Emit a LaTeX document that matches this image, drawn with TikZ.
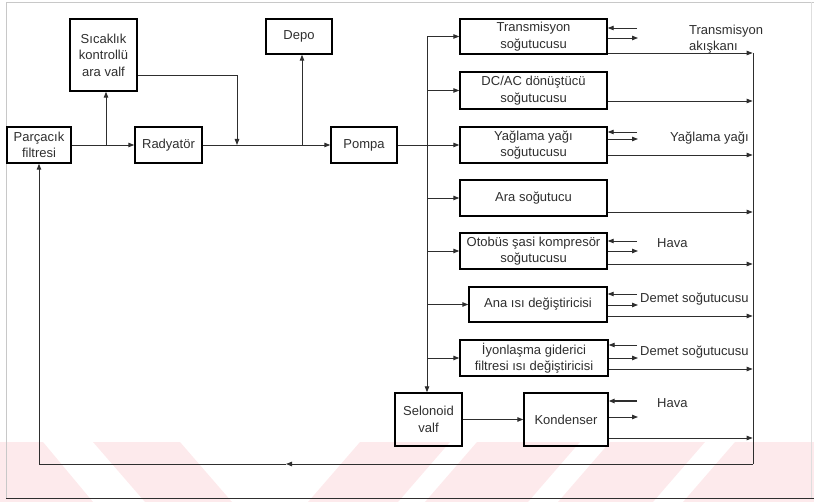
\documentclass[tikz,border=0pt]{standalone}
\usepackage{fontspec}
\setmainfont{Liberation Sans}
\usetikzlibrary{arrows.meta,calc}
\definecolor{ink}{HTML}{2E2E2E}
\definecolor{wm}{RGB}{253,234,236}
\definecolor{framegray}{HTML}{C8C8C8}
\begin{document}
\begin{tikzpicture}[x=1pt,y=-1pt,
  box/.style={draw=black, line width=1.4pt, inner sep=1pt, align=center,
    font=\fontsize{13}{16.5}\selectfont, text=ink},
  conn/.style={draw=ink, line width=0.9pt},
  arr/.style={conn, -{Triangle[length=6pt,width=4.5pt]}},
  lbl/.style={font=\fontsize{13}{16.5}\selectfont, text=ink, align=left, inner sep=0pt}]

\useasboundingbox (0,0) rectangle (814,502);

% pale striped band along the bottom edge
\fill[wm] (0,442) -- (43,442) -- (93,502) -- (0,502) -- cycle;
\fill[wm] (93,442) -- (180,442) -- (232,502) -- (145,502) -- cycle;
\fill[wm] (360,442) -- (450,442) -- (398,502) -- (308,502) -- cycle;
\fill[wm] (477,442) -- (580,442) -- (528,502) -- (425,502) -- cycle;
\fill[wm] (610,442) -- (705,442) -- (653,502) -- (558,502) -- cycle;
\fill[wm] (735,442) -- (814,442) -- (814,502) -- (683,502) -- cycle;

% page frame
\draw[framegray, line width=0.6pt] (6,498) -- (6,2) -- (814,2);
\draw[framegray!60, line width=0.6pt] (811,2) -- (811,498);
\draw[ink, line width=1pt] (6,498) -- (814,498);

% blocks
\node[box, minimum width=64pt, minimum height=36pt] (filt) at (39,145) {Parçacık\\filtresi};
\node[box, minimum width=67pt, minimum height=72pt] (valve) at (103.5,55) {Sıcaklık\\kontrollü\\ara valf};
\node[box, minimum width=67pt, minimum height=36pt] (rad) at (168.5,145) {Radyatör};
\node[box, minimum width=66pt, minimum height=35pt] (depo) at (299,36.5) {Depo};
\node[box, minimum width=66pt, minimum height=36pt] (pompa) at (364,145) {Pompa};
\node[box, minimum width=147pt, minimum height=35pt] (trans) at (533.5,36.5) {Transmisyon\\soğutucusu};
\node[box, minimum width=147pt, minimum height=37pt] (dcac) at (533.5,90.5) {DC/AC dönüştücü\\soğutucusu};
\node[box, minimum width=147pt, minimum height=36pt] (yag) at (533.5,145) {Yağlama yağı\\soğutucusu};
\node[box, minimum width=147pt, minimum height=36pt] (ara) at (533.5,198) {Ara soğutucu};
\node[box, minimum width=147pt, minimum height=36pt] (oto) at (533.5,251) {Otobüs şasi kompresör\\soğutucusu};
\node[box, minimum width=138pt, minimum height=35pt] (ana) at (538,304.5) {Ana ısı değiştiricisi};
\node[box, minimum width=148pt, minimum height=36pt] (iyon) at (534,358) {İyonlaşma giderici\\filtresi ısı değiştiricisi};
\node[box, minimum width=67pt, minimum height=53pt] (sel) at (428.5,419.5) {Selonoid\\valf};
\node[box, minimum width=84pt, minimum height=53pt] (kond) at (566,419.5) {Kondenser};

% side labels
\node[lbl, anchor=west] (lt) at (689,39) {Transmisyon\\akışkanı};
\node[lbl, anchor=base west] (ly) at (670,141.5) {Yağlama yağı};
\node[lbl, anchor=base west] (lh1) at (657,247.5) {Hava};
\node[lbl, anchor=base west] (ld1) at (640,302.5) {Demet soğutucusu};
\node[lbl, anchor=base west] (ld2) at (640,355.5) {Demet soğutucusu};
\node[lbl, anchor=base west] (lh2) at (657,407.5) {Hava};

% radiator loop
\coordinate (j1) at (106,145);
\draw[conn] (filt.east) -- (j1);
\draw[arr] (j1) -- (rad.west);
\draw[arr] (j1) -- (j1 |- valve.south);
\coordinate (vturn) at (237,75);
\coordinate (vjoin) at (237,145);
\draw[arr] (valve.east |- vturn) -- (vturn) -- (vjoin);
\draw[arr] (rad.east) -- (pompa.west);
\coordinate (jd) at (302,145);
\draw[arr] (jd) -- (jd |- depo.south);

% distribution bus
\draw[arr] (pompa.east) -- (yag.west);
\coordinate (btop) at (427,36.5);
\draw[arr] (btop) -- (btop |- sel.north);
\draw[arr] (btop) -- (trans.west);
\foreach \b in {dcac,ara,oto,ana,iyon}
  \draw[arr] (btop |- \b.west) -- (\b.west);
\draw[arr] (sel.east |- kond.west) -- (kond.west);

% return collector
\coordinate (rtop) at (753,53);
\coordinate (rbot) at (753,464);
\coordinate (rmid) at (286,464);
\coordinate (rleft) at (39,464);
\draw[conn] (rtop) -- (rbot);
\draw[arr] (rbot) -- (rmid);
\draw[arr] (rmid) -- (rleft) -- (filt.south);

% outputs into the collector
\foreach \b/\y in {trans/53,dcac/101,yag/155,ara/212,oto/264,ana/316,iyon/369,kond/438}{
  \coordinate (\b-o) at (752.6,\y);
  \draw[arr] (\b.east |- \b-o) -- (\b-o);
}

% short in/out stubs on the right of the heat exchangers
\foreach \b/\yl/\yr in {trans/28/38,yag/132/139,oto/241/251,ana/294/305,iyon/345/358}{
  \coordinate (\b-in) at (637,\yl);
  \coordinate (\b-out) at (638,\yr);
  \draw[arr] (\b-in) -- (\b.east |- \b-in);
  \draw[arr] (\b.east |- \b-out) -- (\b-out);
}
\coordinate (kond-in) at (637,401);
\coordinate (kond-out) at (638,417);
\draw[arr, line width=1.4pt] (kond-in) -- (kond.east |- kond-in);
\draw[arr] (kond.east |- kond-out) -- (kond-out);
\end{tikzpicture}
\end{document}
